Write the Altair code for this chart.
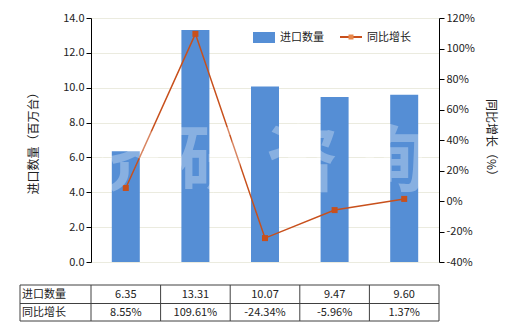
import altair as alt
import pandas as pd

years = ["2012年", "2013年", "2014年", "2015年", "2016年"]
qty = [6.35, 13.31, 10.07, 9.47, 9.60]
growth = [8.55, 109.61, -24.34, -5.96, 1.37]
series_names = ["进口数量", "同比增长"]
left_ticks = [0, 2, 4, 6, 8, 10, 12, 14]
right_ticks = [-40, -20, 0, 20, 40, 60, 80, 100, 120]
watermark = ["济 研 咨 询"]

FONT = "Noto Sans CJK SC"
BAR = "#558ED5"
LINE = "#C8501C"
BORDER = "#404040"
W, H = 348, 244

df = pd.DataFrame({"year": years, "qty": qty, "growth": growth})
base = alt.Chart(df)
xenc = alt.X("year:N", sort=years,
             scale=alt.Scale(paddingInner=0, paddingOuter=0),
             axis=alt.Axis(title=None, labelAngle=0, labelFontSize=11, labelFont=FONT,
                           labelColor="#222", tickSize=4, tickColor="#000",
                           domainColor="#000", labelPadding=3))
xnone = alt.X("year:N", sort=years, axis=None)

bars = base.mark_bar(size=28, color=BAR).encode(
    x=xenc,
    y=alt.Y("qty:Q", scale=alt.Scale(domain=[0, 14], nice=False),
            axis=alt.Axis(values=left_ticks, format=".1f", title="进口数量（百万台）",
                          titleFont=FONT, titleFontSize=12, titleFontWeight="normal",
                          titleColor="#222", titleX=-58, titleY=H / 2, titleAngle=-90,
                          titleAlign="center", titleBaseline="middle",
                          labelFont=FONT, labelFontSize=11, labelColor="#222",
                          tickSize=5, tickColor="#000", domainColor="#000",
                          grid=True, gridColor="#EBEBDF", labelPadding=2))
)

yr = alt.Y("growth:Q", scale=alt.Scale(domain=[-40, 120], nice=False),
           axis=alt.Axis(orient="right", values=right_ticks,
                         labelExpr="datum.value + '%'", title="同比增长（%）",
                         titleFont=FONT, titleFontSize=12, titleFontWeight="normal",
                         titleColor="#222", titleX=51, titleY=H / 2, titleAngle=90,
                         titleAlign="center", titleBaseline="middle",
                         labelFont=FONT, labelFontSize=11, labelColor="#222",
                         tickSize=5, tickColor="#000", domainColor="#000",
                         grid=False, labelPadding=2))

line = base.mark_line(color=LINE, strokeWidth=1.5).encode(x=xnone, y=yr)
pts = base.mark_point(shape="square", filled=True, size=36, color=LINE, opacity=1).encode(
    x=xnone, y=alt.Y("growth:Q", scale=alt.Scale(domain=[-40, 120], nice=False), axis=None))

wm = alt.Chart(pd.DataFrame({"t": watermark})).mark_text(
    font=FONT, fontSize=72, fontWeight="bold", color="white", opacity=0.3,
    align="center", baseline="middle"
).encode(text="t:N", x=alt.value(167), y=alt.value(145))

leg = pd.DataFrame({"name": series_names})
leg_rect = alt.Chart(leg.iloc[[0]]).mark_rect(color=BAR).encode(
    x=alt.value(162), x2=alt.value(184), y=alt.value(14), y2=alt.value(25))
leg_line = alt.Chart(leg.iloc[[1]]).mark_rule(color=LINE, strokeWidth=2).encode(
    x=alt.value(249), x2=alt.value(271), y=alt.value(19))
leg_pt = alt.Chart(leg.iloc[[1]]).mark_point(shape="square", filled=True, size=25,
                                             color="#E8884A", opacity=1).encode(
    x=alt.value(260), y=alt.value(19))
leg_t1 = alt.Chart(leg.iloc[[0]]).mark_text(font=FONT, fontSize=11, align="left",
                                            baseline="middle", color="#222").encode(
    text="name:N", x=alt.value(189), y=alt.value(20))
leg_t2 = alt.Chart(leg.iloc[[1]]).mark_text(font=FONT, fontSize=11, align="left",
                                            baseline="middle", color="#222").encode(
    text="name:N", x=alt.value(276), y=alt.value(20))

# table
T0, T1, T2 = 267, 285.5, 303
hrules = alt.Chart(pd.DataFrame({"r": [T0, T1, T2]})).mark_rule(color=BORDER, strokeWidth=1).encode(
    x=alt.value(-71), x2=alt.value(W), y=alt.Y("r:Q", scale=None))
vrules = base.mark_rule(color=BORDER, strokeWidth=1).encode(
    x=alt.X("year:N", sort=years, bandPosition=0, axis=None),
    y=alt.value(T0), y2=alt.value(T2))
vedge = alt.Chart(pd.DataFrame({"e": [-71, W]})).mark_rule(color=BORDER, strokeWidth=1).encode(
    x=alt.X("e:Q", scale=None), y=alt.value(T0), y2=alt.value(T2))
row_lbl = alt.Chart(pd.DataFrame({"name": series_names, "r": [T0 + 9.5, T1 + 9]})).mark_text(
    font=FONT, fontSize=11, align="left", baseline="middle", color="#222").encode(
    text="name:N", x=alt.value(-69), y=alt.Y("r:Q", scale=None))
t_qty = base.mark_text(font=FONT, fontSize=11, baseline="middle", color="#222").encode(
    x=xnone, y=alt.value(T0 + 10), text=alt.Text("qty:Q", format=".2f"))
t_gr = base.transform_calculate(
    lab="replace(format(datum.growth, '.2f'), '\u2212', '-') + '%'").mark_text(
    font=FONT, fontSize=11, baseline="middle", color="#222").encode(
    x=xnone, y=alt.value(T1 + 9.5), text="lab:N")

main = alt.layer(bars, line, pts).resolve_scale(y="independent")
chart = alt.layer(main, wm, leg_rect, leg_line, leg_pt, leg_t1, leg_t2,
                  hrules, vrules, vedge, row_lbl, t_qty, t_gr).properties(
    width=W, height=H,
    autosize=alt.AutoSizeParams(type="none"),
    padding={"left": 91, "top": 18, "right": 81, "bottom": 68},
    background="white",
).configure_view(strokeWidth=0)

chart.save("out.html", embed_options={"renderer": "svg", "actions": False})
